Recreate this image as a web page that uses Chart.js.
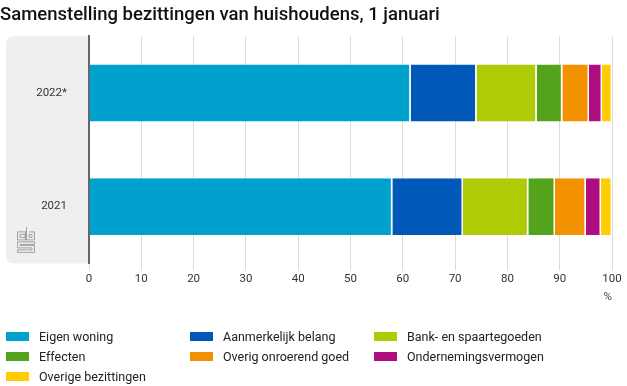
<!DOCTYPE html>
<html lang="nl">
<head>
    <meta charset="UTF-8">
    <title>Samenstelling bezittingen van huishoudens</title>
    <script src="https://cdn.jsdelivr.net/npm/chart.js"></script>
    <style>
        body {
            margin: 0;
            background: #ffffff;
            font-family: "Roboto", "Noto Sans", sans-serif;
        }
        #wrap {
            position: relative;
            width: 627px;
            height: 386px;
        }
        #legend {
            position: absolute;
            left: 6px;
            top: 328px;
            width: 620px;
            display: grid;
            grid-template-columns: 184px 184px 240px;
            row-gap: 4px;
            font-size: 12.5px;
            color: #222;
        }
        .item {
            display: flex;
            align-items: center;
            height: 16px;
        }
        .swatch {
            width: 23px;
            height: 9px;
            margin-right: 10px;
        }
    </style>
</head>
<body>
<div id="wrap">
    <canvas id="chart" width="627" height="386"></canvas>
    <div id="legend"></div>
</div>
<script>
    // data (percent of total)
    const years = ['2022*', '2021'];
    const seriesNames = ['Eigen woning', 'Aanmerkelijk belang', 'Bank- en spaartegoeden',
        'Effecten', 'Overig onroerend goed', 'Ondernemingsvermogen', 'Overige bezittingen'];
    const eigenWoning = [61.5, 58.0];
    const aanmerkelijkBelang = [12.6, 13.5];
    const bankSpaar = [11.5, 12.5];
    const effecten = [4.9, 5.1];
    const overigOnroerend = [5.1, 5.9];
    const onderneming = [2.5, 2.9];
    const overige = [1.9, 2.1];
    const xTicks = [0, 10, 20, 30, 40, 50, 60, 70, 80, 90, 100];

    const colors = ['#00a1cd', '#0058b8', '#afcb05', '#53a31d', '#f39200', '#af0e80', '#ffcc00'];
    const values = [eigenWoning, aanmerkelijkBelang, bankSpaar, effecten, overigOnroerend, onderneming, overige];

    // grey panel behind the year labels + cbs logo
    const panelPlugin = {
        id: 'panel',
        beforeDraw(chart) {
            const ctx = chart.ctx;
            const a = chart.chartArea;
            const x0 = 6, r = 8;
            ctx.save();
            ctx.fillStyle = '#efefef';
            ctx.beginPath();
            ctx.moveTo(a.left, a.top);
            ctx.lineTo(x0 + r, a.top);
            ctx.quadraticCurveTo(x0, a.top, x0, a.top + r);
            ctx.lineTo(x0, a.bottom - r);
            ctx.quadraticCurveTo(x0, a.bottom, x0 + r, a.bottom);
            ctx.lineTo(a.left, a.bottom);
            ctx.closePath();
            ctx.fill();

            // small logo
            ctx.strokeStyle = '#a0a0a0';
            ctx.lineWidth = 1;
            const lx = 17.5, ly = a.bottom - 36.5;
            ctx.strokeRect(lx, ly + 5, 8, 8);
            ctx.strokeRect(lx + 2.5, ly + 7.5, 5, 3);
            ctx.beginPath();
            ctx.moveTo(lx + 9, ly);
            ctx.lineTo(lx + 9, ly + 13);
            ctx.lineTo(lx + 17, ly + 13);
            ctx.lineTo(lx + 17, ly + 5);
            ctx.lineTo(lx + 11.5, ly + 5);
            ctx.moveTo(lx + 11.5, ly + 7.5);
            ctx.lineTo(lx + 14.5, ly + 7.5);
            ctx.lineTo(lx + 14.5, ly + 10.5);
            ctx.lineTo(lx + 11.5, ly + 10.5);
            ctx.closePath();
            ctx.stroke();
            ctx.beginPath();
            ctx.moveTo(lx + 17, ly + 15);
            ctx.lineTo(lx, ly + 15);
            ctx.lineTo(lx, ly + 21);
            ctx.lineTo(lx + 14.5, ly + 21);
            ctx.lineTo(lx + 14.5, ly + 23);
            ctx.lineTo(lx, ly + 23);
            ctx.lineTo(lx, ly + 25.5);
            ctx.lineTo(lx + 17, ly + 25.5);
            ctx.lineTo(lx + 17, ly + 18.5);
            ctx.lineTo(lx + 2.5, ly + 18.5);
            ctx.lineTo(lx + 2.5, ly + 17.5);
            ctx.lineTo(lx + 17, ly + 17.5);
            ctx.closePath();
            ctx.stroke();
            ctx.restore();
        }
    };

    const datasets = seriesNames.map((name, i) => ({
        label: name,
        data: values[i],
        backgroundColor: colors[i],
        borderColor: '#ffffff',
        borderWidth: { right: 1.5, left: 0, top: 0, bottom: 0 },
        borderSkipped: false,
        barPercentage: 1,
        categoryPercentage: 0.5
    }));

    const chart = new Chart(document.getElementById('chart'), {
        type: 'bar',
        data: { labels: years, datasets: datasets },
        plugins: [panelPlugin],
        options: {
            indexAxis: 'y',
            responsive: false,
            animation: false,
            layout: { padding: { left: 0, right: 15, top: 0, bottom: 82 } },
            plugins: {
                legend: { display: false },
                tooltip: { enabled: false },
                title: {
                    display: true,
                    text: 'Samenstelling bezittingen van huishoudens, 1 januari',
                    align: 'start',
                    color: '#111',
                    font: { family: 'Roboto', size: 18.5, weight: '500' },
                    padding: { top: 4, bottom: 10 }
                }
            },
            scales: {
                x: {
                    stacked: true,
                    min: 0,
                    max: 100,
                    afterBuildTicks(scale) {
                        scale.ticks = xTicks.map(v => ({ value: v }));
                    },
                    afterFit(scale) {
                        scale.paddingRight = 0;
                        scale.paddingLeft = 0;
                    },
                    grid: { color: '#dcdcdc', lineWidth: 1, tickLength: 7 },
                    border: { display: false },
                    ticks: {
                        color: '#333',
                        font: { family: 'Roboto', size: 11.5 },
                        padding: 2
                    },
                    title: {
                        display: true,
                        text: '%',
                        align: 'end',
                        color: '#444',
                        font: { family: 'Roboto', size: 11.5 },
                        padding: { top: 2, bottom: 0 }
                    }
                },
                y: {
                    stacked: true,
                    afterFit(scale) { scale.width = 89; },
                    grid: { display: false },
                    border: { display: true, color: '#666', width: 2 },
                    ticks: {
                        color: '#333',
                        font: { family: 'Roboto', size: 11.5 },
                        padding: 14
                    }
                }
            }
        }
    });

    // legend in three columns, built from the series arrays
    const legend = document.getElementById('legend');
    seriesNames.forEach((name, i) => {
        const item = document.createElement('div');
        item.className = 'item';
        item.innerHTML = '<span class="swatch" style="background:' + colors[i] + '"></span><span>' + name + '</span>';
        legend.appendChild(item);
    });
</script>
</body>
</html>
